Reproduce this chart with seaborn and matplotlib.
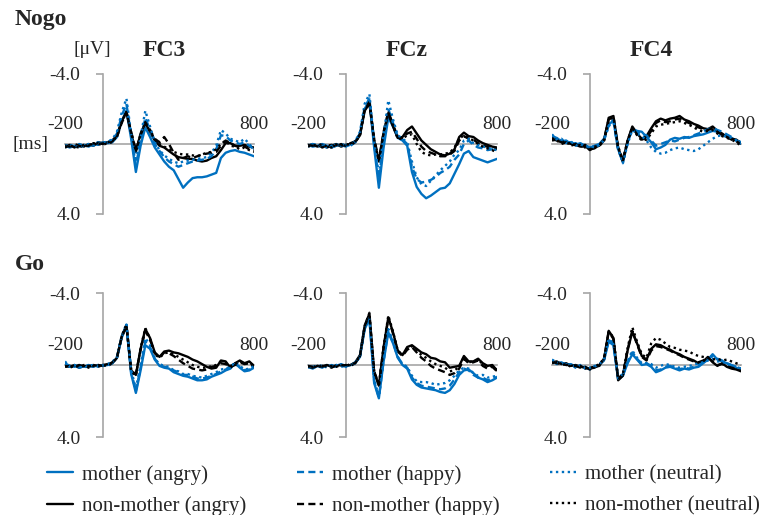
import numpy as np
import pandas as pd
import seaborn as sns
import matplotlib.pyplot as plt
from matplotlib.lines import Line2D

# time axis (ms), one sample every 25 ms
times = list(range(-200, 801, 25))

# ---------- Nogo, FC3 ----------
nogo_fc3_mother_angry = [0.10, 0.20, 0.10, 0.15, 0.05, 0.15, 0.00, 0.05, -0.10, -0.05, -0.10, -0.40,
                         -1.30, -1.90, -0.30, 1.60, 0.10, -0.95, -0.40, 0.20,
                         0.60, 1.00, 1.30, 1.50, 2.00, 2.50, 2.20, 1.95, 1.90, 1.90,
                         1.85, 1.75, 1.65, 0.80, 0.50, 0.40, 0.35, 0.45, 0.50, 0.60, 0.70]
nogo_fc3_mother_happy = [0.05, 0.15, 0.20, 0.00, 0.10, 0.10, 0.05, -0.10, 0.00, -0.10, -0.20, -0.60,
                         -1.60, -2.30, -0.50, 1.25, -0.20, -1.50, -0.80, 0.00,
                         0.40, 0.75, 1.00, 1.15, 1.30, 1.20, 1.10, 1.00, 0.95, 0.90,
                         0.85, 0.70, 0.30, -0.50, -0.45, -0.20, -0.10, 0.00, -0.10, 0.10, 0.30]
nogo_fc3_mother_neutral = [0.20, 0.05, 0.10, 0.20, 0.10, 0.00, 0.10, 0.00, -0.05, -0.15, -0.25, -0.70,
                           -1.80, -2.60, -0.60, 1.00, -0.40, -1.90, -1.00, -0.10,
                           0.35, 0.65, 0.85, 1.00, 1.10, 1.00, 0.95, 0.90, 0.85, 0.80,
                           0.75, 0.50, 0.10, -0.80, -0.60, -0.30, -0.20, -0.10, -0.30, 0.00, 0.30]
nogo_fc3_other_angry = [0.15, 0.05, 0.20, 0.05, 0.15, 0.00, 0.10, -0.10, -0.05, -0.10, -0.20, -0.50,
                        -1.30, -1.85, -0.60, 0.45, -0.60, -1.20, -0.70, -0.20,
                        0.10, 0.20, 0.40, 0.60, 0.75, 0.80, 0.85, 0.85, 0.95, 1.00,
                        0.95, 0.80, 0.70, 0.35, -0.05, -0.05, 0.10, 0.10, 0.05, 0.15, 0.20]
nogo_fc3_other_happy = [0.10, 0.15, 0.00, 0.10, 0.20, 0.05, 0.00, -0.05, 0.00, -0.10, -0.15, -0.40,
                        -1.20, -1.80, -0.70, 0.35, -0.50, -1.25, -0.80, -0.30,
                        -0.10, -0.40, 0.00, 0.50, 0.90, 0.80, 0.70, 0.80, 0.70, 0.60,
                        0.55, 0.50, 0.45, 0.10, -0.20, -0.05, 0.10, 0.20, 0.15, 0.30, 0.35]
nogo_fc3_other_neutral = [0.20, 0.10, 0.15, 0.20, 0.05, 0.10, -0.05, 0.00, 0.05, -0.05, -0.10, -0.45,
                          -1.25, -1.80, -0.65, 0.40, -0.55, -1.20, -0.75, -0.25,
                          0.00, 0.15, 0.30, 0.45, 0.55, 0.60, 0.60, 0.65, 0.70, 0.60,
                          0.50, 0.45, 0.30, 0.00, -0.20, 0.10, 0.15, 0.30, 0.20, 0.35, 0.45]

# ---------- Nogo, FCz ----------
nogo_fcz_mother_angry = [0.05, 0.15, 0.10, 0.00, 0.10, 0.20, 0.10, 0.05, 0.15, 0.00, -0.15, -0.60,
                         -2.00, -2.50, 0.20, 2.50, 0.20, -1.50, -1.00, -0.35,
                         -0.20, 0.10, 1.60, 2.45, 2.85, 3.10, 2.95, 2.75, 2.55, 2.50,
                         2.25, 1.70, 1.15, 0.55, 0.40, 0.75, 0.85, 0.95, 1.05, 0.95, 0.85]
nogo_fcz_mother_happy = [0.10, 0.00, 0.15, 0.10, 0.05, 0.15, 0.00, 0.10, 0.05, 0.10, -0.10, -0.60,
                         -2.10, -2.60, 0.00, 2.00, -0.10, -2.00, -1.20, -0.40,
                         -0.25, 0.00, 1.30, 2.00, 2.20, 2.15, 2.05, 1.90, 1.65, 1.50,
                         1.30, 0.90, 0.60, 0.00, -0.20, 0.05, 0.20, 0.25, 0.35, 0.30, 0.45]
nogo_fcz_mother_neutral = [0.15, 0.05, 0.00, 0.10, 0.20, 0.10, 0.05, 0.00, 0.10, 0.05, -0.15, -0.70,
                           -2.30, -2.85, -0.10, 1.80, -0.50, -2.50, -1.40, -0.50,
                           -0.30, -0.10, 1.00, 1.90, 2.30, 2.40, 2.10, 1.80, 1.50, 1.25,
                           1.00, 0.60, 0.35, -0.20, -0.30, -0.05, 0.05, 0.15, 0.20, 0.30, 0.35]
nogo_fcz_other_angry = [0.10, 0.00, 0.15, 0.05, 0.20, 0.10, 0.00, 0.15, 0.05, 0.00, -0.10, -0.50,
                        -1.90, -2.30, -0.20, 1.00, -0.60, -1.75, -1.00, -0.35,
                        -0.40, -0.80, -1.00, -0.60, -0.20, 0.05, 0.30, 0.45, 0.60, 0.65,
                        0.55, 0.30, -0.40, -0.65, -0.45, -0.40, -0.20, -0.05, 0.05, 0.15, 0.20]
nogo_fcz_other_happy = [0.05, 0.10, 0.00, 0.20, 0.10, 0.05, 0.15, 0.00, 0.10, -0.05, -0.15, -0.55,
                        -2.00, -2.40, -0.30, 0.90, -0.70, -1.85, -1.10, -0.40,
                        -0.35, -0.60, -0.70, -0.30, 0.15, 0.40, 0.50, 0.60, 0.70, 0.70,
                        0.60, 0.40, -0.20, -0.45, -0.30, -0.25, -0.05, 0.10, 0.15, 0.20, 0.30]
nogo_fcz_other_neutral = [0.15, 0.05, 0.10, 0.00, 0.15, 0.20, 0.05, 0.10, 0.00, 0.05, -0.10, -0.50,
                          -1.95, -2.35, -0.25, 0.95, -0.65, -1.80, -1.05, -0.30,
                          -0.30, -0.50, -0.55, 0.00, 0.45, 0.60, 0.65, 0.60, 0.60, 0.55,
                          0.50, 0.20, -0.30, -0.50, -0.35, -0.20, 0.00, 0.15, 0.25, 0.35, 0.50]

# ---------- Nogo, FC4 ----------
nogo_fc4_mother_angry = [-0.50, -0.30, -0.20, -0.10, -0.10, 0.05, -0.05, 0.10, 0.20, 0.10, 0.00, -0.30,
                         -1.10, -1.35, 0.30, 1.05, -0.10, -0.85, -0.75, -0.70,
                         -0.40, -0.10, 0.30, 0.20, 0.05, -0.25, -0.35, -0.30, -0.40, -0.35,
                         -0.45, -0.50, -0.55, -0.65, -0.75, -0.70, -0.55, -0.45, -0.35, -0.20, -0.10]
nogo_fc4_mother_happy = [-0.40, -0.35, -0.15, -0.20, 0.00, -0.05, 0.10, 0.05, 0.25, 0.15, 0.05, -0.25,
                         -1.05, -1.30, 0.35, 1.00, -0.05, -0.90, -0.70, -0.55,
                         -0.50, -0.20, 0.10, 0.00, -0.10, -0.20, -0.15, -0.25, -0.35, -0.40,
                         -0.50, -0.60, -0.70, -0.85, -0.90, -0.80, -0.70, -0.55, -0.40, -0.20, -0.10]
nogo_fc4_mother_neutral = [-0.55, -0.25, -0.30, -0.05, -0.15, 0.10, 0.00, 0.15, 0.10, 0.20, 0.05, -0.20,
                           -1.00, -1.40, 0.25, 1.10, 0.00, -0.80, -0.60, -0.45,
                           -0.20, 0.20, 0.45, 0.55, 0.50, 0.35, 0.25, 0.20, 0.30, 0.35,
                           0.40, 0.30, 0.10, -0.10, -0.30, -0.45, -0.50, -0.40, -0.35, -0.20, 0.00]
nogo_fc4_other_angry = [-0.30, -0.20, -0.10, -0.15, 0.00, 0.05, 0.15, 0.10, 0.35, 0.20, 0.10, -0.20,
                        -1.50, -1.60, 0.20, 1.00, -0.20, -1.00, -0.60, -0.30,
                        -0.45, -0.90, -1.30, -1.45, -1.35, -1.45, -1.50, -1.60, -1.40, -1.30,
                        -1.15, -1.05, -0.90, -0.85, -1.00, -0.75, -0.60, -0.40, -0.30, -0.25, -0.05]
nogo_fc4_other_happy = [-0.20, -0.25, 0.00, -0.10, 0.10, 0.00, 0.20, 0.05, 0.30, 0.25, 0.05, -0.25,
                        -1.40, -1.55, 0.25, 0.95, -0.15, -0.95, -0.55, -0.25,
                        -0.35, -0.75, -1.20, -1.35, -1.25, -1.30, -1.40, -1.45, -1.30, -1.20,
                        -1.05, -0.95, -0.85, -0.80, -0.90, -0.70, -0.50, -0.40, -0.25, -0.15, 0.00]
nogo_fc4_other_neutral = [-0.35, -0.15, -0.20, 0.00, -0.05, 0.10, 0.05, 0.20, 0.30, 0.15, 0.10, -0.15,
                          -1.35, -1.55, 0.15, 0.90, -0.20, -0.95, -0.50, -0.20,
                          -0.25, -0.60, -1.00, -1.10, -1.15, -1.20, -1.25, -1.30, -1.20, -1.10,
                          -0.95, -0.80, -0.70, -0.75, -0.80, -0.60, -0.45, -0.35, -0.25, -0.10, 0.10]

# ---------- Go, FC3 ----------
go_fc3_mother_angry = [-0.10, 0.05, 0.10, 0.00, 0.10, 0.05, 0.10, 0.00, 0.05, 0.00, -0.10, -0.40,
                       -1.50, -2.20, 0.50, 1.55, 0.30, -1.10, -0.90, -0.30,
                       0.05, 0.15, 0.20, 0.40, 0.50, 0.60, 0.65, 0.75, 0.85, 0.85,
                       0.80, 0.65, 0.55, 0.45, 0.30, 0.20, -0.10, 0.15, 0.35, 0.30, 0.15]
go_fc3_mother_happy = [0.00, 0.10, 0.05, 0.15, 0.05, 0.00, 0.10, 0.05, 0.00, 0.05, -0.10, -0.45,
                       -1.55, -2.25, 0.40, 1.45, 0.15, -1.30, -1.00, -0.35,
                       0.00, 0.10, 0.15, 0.30, 0.40, 0.55, 0.55, 0.65, 0.75, 0.75,
                       0.70, 0.60, 0.50, 0.35, 0.25, 0.15, -0.05, 0.10, 0.30, 0.25, 0.10]
go_fc3_mother_neutral = [-0.20, 0.10, 0.00, 0.10, 0.15, 0.05, 0.00, 0.10, 0.05, -0.05, -0.15, -0.45,
                         -1.60, -2.30, 0.30, 1.30, 0.00, -1.50, -1.10, -0.35,
                         -0.05, 0.05, 0.10, 0.30, 0.35, 0.50, 0.50, 0.60, 0.65, 0.70,
                         0.60, 0.50, 0.40, 0.25, 0.20, 0.10, -0.15, 0.05, 0.25, 0.20, 0.05]
go_fc3_other_angry = [0.05, 0.10, 0.00, 0.15, 0.05, 0.10, 0.00, 0.05, 0.00, -0.05, -0.10, -0.40,
                      -1.60, -2.20, 0.30, 0.55, -0.90, -2.00, -1.50, -0.70,
                      -0.45, -0.75, -0.80, -0.70, -0.65, -0.55, -0.45, -0.30, -0.20, -0.05,
                      0.10, 0.20, 0.15, -0.25, -0.20, 0.15, -0.10, -0.25, -0.10, -0.20, 0.05]
go_fc3_other_happy = [0.10, 0.05, 0.10, 0.00, 0.10, 0.05, 0.05, 0.00, 0.05, 0.00, -0.15, -0.45,
                      -1.55, -2.15, 0.25, 0.50, -0.85, -1.90, -1.40, -0.65,
                      -0.40, -0.70, -0.65, -0.50, -0.30, -0.10, 0.05, 0.20, 0.25, 0.30,
                      0.25, 0.10, 0.05, -0.10, -0.05, 0.10, 0.00, -0.15, -0.05, -0.10, 0.10]
go_fc3_other_neutral = [0.05, 0.15, 0.05, 0.10, 0.00, 0.15, 0.05, 0.10, 0.00, 0.05, -0.10, -0.40,
                        -1.60, -2.25, 0.35, 0.60, -0.95, -2.05, -1.45, -0.60,
                        -0.40, -0.65, -0.70, -0.60, -0.45, -0.30, -0.15, 0.00, 0.10, 0.15,
                        0.15, 0.05, 0.00, -0.20, -0.10, 0.05, -0.05, -0.20, -0.05, -0.15, 0.05]

# ---------- Go, FCz ----------
go_fcz_mother_angry = [0.10, 0.20, 0.05, 0.15, 0.00, 0.10, 0.05, -0.05, 0.05, 0.00, -0.10, -0.45,
                       -2.00, -2.55, 1.00, 1.85, -0.20, -1.80, -1.20, -0.40,
                       0.00, 0.20, 0.80, 1.10, 1.25, 1.30, 1.35, 1.40, 1.50, 1.55,
                       1.40, 1.05, 0.55, 0.30, 0.25, 0.45, 0.70, 0.80, 0.95, 0.85, 0.70]
go_fcz_mother_happy = [0.05, 0.10, 0.15, 0.05, 0.10, 0.00, 0.10, 0.00, 0.10, 0.05, -0.15, -0.50,
                       -2.05, -2.60, 0.90, 1.80, -0.25, -1.90, -1.25, -0.45,
                       -0.05, 0.15, 0.70, 1.00, 1.15, 1.20, 1.25, 1.30, 1.35, 1.30,
                       1.15, 0.80, 0.40, 0.20, 0.30, 0.55, 0.70, 0.70, 0.85, 0.80, 0.65]
go_fcz_mother_neutral = [0.15, 0.05, 0.10, 0.00, 0.15, 0.05, 0.00, 0.10, 0.05, 0.00, -0.10, -0.50,
                         -2.10, -2.70, 0.80, 1.75, -0.30, -2.00, -1.30, -0.45,
                         -0.05, 0.10, 0.60, 0.90, 0.95, 0.95, 1.00, 1.10, 1.05, 1.00,
                         0.85, 0.60, 0.30, 0.15, 0.20, 0.45, 0.60, 0.55, 0.70, 0.65, 0.60]
go_fcz_other_angry = [0.10, 0.15, 0.05, 0.10, 0.00, 0.10, 0.05, 0.00, 0.05, 0.00, -0.15, -0.55,
                      -2.20, -2.85, 0.40, 1.15, -1.00, -2.65, -1.80, -0.80,
                      -0.55, -1.00, -1.10, -0.90, -0.70, -0.60, -0.40, -0.35, -0.20, -0.15,
                      0.15, 0.10, 0.05, -0.50, -0.20, -0.20, -0.35, -0.10, 0.05, 0.00, 0.30]
go_fcz_other_happy = [0.05, 0.10, 0.10, 0.05, 0.05, 0.15, 0.00, 0.05, 0.00, 0.05, -0.10, -0.50,
                      -2.15, -2.80, 0.35, 1.10, -0.95, -2.60, -1.75, -0.75,
                      -0.50, -0.85, -1.00, -0.70, -0.40, -0.20, 0.05, 0.20, 0.30, 0.40,
                      0.55, 0.45, 0.20, -0.35, -0.10, -0.15, -0.25, 0.05, 0.20, 0.10, 0.35]
go_fcz_other_neutral = [0.10, 0.05, 0.15, 0.00, 0.10, 0.05, 0.10, 0.00, 0.05, -0.05, -0.10, -0.50,
                        -2.15, -2.90, 0.35, 1.10, -1.00, -2.75, -1.85, -0.80,
                        -0.55, -0.95, -1.05, -0.80, -0.55, -0.40, -0.20, -0.05, 0.05, 0.15,
                        0.35, 0.30, 0.10, -0.45, -0.15, -0.20, -0.30, -0.05, 0.10, 0.05, 0.30]

# ---------- Go, FC4 ----------
go_fc4_mother_angry = [-0.20, -0.10, -0.15, 0.00, -0.05, 0.10, 0.05, 0.15, 0.20, 0.10, 0.00, -0.25,
                       -1.30, -1.10, 0.80, 0.60, -0.10, -0.60, -0.30, 0.00,
                       -0.05, 0.10, 0.40, 0.30, 0.15, 0.10, 0.20, 0.30, 0.20, 0.25,
                       0.15, 0.10, -0.10, -0.30, -0.60, -0.30, -0.20, -0.10, 0.05, 0.15, 0.25]
go_fc4_mother_happy = [-0.25, -0.05, -0.10, -0.05, 0.05, 0.05, 0.10, 0.10, 0.25, 0.05, 0.05, -0.30,
                       -1.40, -1.15, 0.75, 0.55, -0.15, -0.70, -0.35, -0.05,
                       -0.10, 0.05, 0.30, 0.25, 0.10, 0.05, 0.15, 0.25, 0.15, 0.20,
                       0.10, 0.00, -0.15, -0.35, -0.50, -0.35, -0.25, -0.10, 0.00, 0.10, 0.20]
go_fc4_mother_neutral = [-0.30, -0.15, -0.05, -0.10, 0.00, 0.15, 0.00, 0.20, 0.15, 0.10, -0.05, -0.30,
                         -1.45, -1.20, 0.70, 0.50, -0.20, -0.80, -0.40, -0.10,
                         -0.10, -0.05, 0.15, 0.05, -0.05, 0.00, 0.10, 0.15, 0.10, 0.05,
                         0.00, -0.10, -0.15, -0.25, -0.35, -0.20, -0.20, -0.05, 0.00, 0.10, 0.20]
go_fc4_other_angry = [-0.15, -0.20, -0.05, -0.10, 0.05, 0.00, 0.10, 0.15, 0.20, 0.15, 0.00, -0.30,
                      -1.90, -1.50, 0.85, 0.60, -0.80, -1.85, -1.20, -0.50,
                      -0.30, -0.90, -1.15, -1.10, -0.95, -0.85, -0.70, -0.60, -0.45, -0.35,
                      -0.25, -0.10, -0.20, -0.45, -0.15, 0.05, -0.10, 0.10, 0.20, 0.25, 0.35]
go_fc4_other_happy = [-0.20, -0.10, -0.10, 0.00, 0.00, 0.05, 0.15, 0.10, 0.25, 0.10, 0.05, -0.35,
                      -1.85, -1.45, 0.80, 0.55, -0.85, -1.90, -1.15, -0.45,
                      -0.25, -0.80, -1.05, -1.00, -0.90, -0.80, -0.65, -0.55, -0.40, -0.30,
                      -0.20, -0.15, -0.25, -0.40, -0.20, 0.00, -0.05, 0.05, 0.15, 0.20, 0.30]
go_fc4_other_neutral = [-0.10, -0.15, 0.00, -0.05, 0.10, 0.05, 0.05, 0.20, 0.15, 0.10, -0.05, -0.35,
                        -1.85, -1.55, 0.75, 0.50, -0.95, -2.10, -1.30, -0.60,
                        -0.40, -1.20, -1.50, -1.40, -1.20, -1.00, -0.95, -0.85, -0.80, -0.75,
                        -0.60, -0.50, -0.45, -0.40, -0.30, -0.35, -0.25, -0.30, -0.20, -0.10, 0.00]

groups = ["mother (angry)", "non-mother (angry)", "mother (happy)",
          "non-mother (happy)", "mother (neutral)", "non-mother (neutral)"]
electrodes = ["FC3", "FCz", "FC4"]
conditions = ["Nogo", "Go"]

panel_series = {
    ("Nogo", "FC3"): [nogo_fc3_mother_angry, nogo_fc3_other_angry, nogo_fc3_mother_happy,
                      nogo_fc3_other_happy, nogo_fc3_mother_neutral, nogo_fc3_other_neutral],
    ("Nogo", "FCz"): [nogo_fcz_mother_angry, nogo_fcz_other_angry, nogo_fcz_mother_happy,
                      nogo_fcz_other_happy, nogo_fcz_mother_neutral, nogo_fcz_other_neutral],
    ("Nogo", "FC4"): [nogo_fc4_mother_angry, nogo_fc4_other_angry, nogo_fc4_mother_happy,
                      nogo_fc4_other_happy, nogo_fc4_mother_neutral, nogo_fc4_other_neutral],
    ("Go", "FC3"): [go_fc3_mother_angry, go_fc3_other_angry, go_fc3_mother_happy,
                    go_fc3_other_happy, go_fc3_mother_neutral, go_fc3_other_neutral],
    ("Go", "FCz"): [go_fcz_mother_angry, go_fcz_other_angry, go_fcz_mother_happy,
                    go_fcz_other_happy, go_fcz_mother_neutral, go_fcz_other_neutral],
    ("Go", "FC4"): [go_fc4_mother_angry, go_fc4_other_angry, go_fc4_mother_happy,
                    go_fc4_other_happy, go_fc4_mother_neutral, go_fc4_other_neutral],
}

rows = []
for (cond, el), series in panel_series.items():
    for g, vals in zip(groups, series):
        for t, v in zip(times, vals):
            rows.append((cond, el, g, t, v))
df = pd.DataFrame(rows, columns=["condition", "electrode", "group", "time", "amp"])

BLUE = "#0070C0"
GRAY = "#A6A6A6"
palette = {g: (BLUE if g.startswith("mother") else "black") for g in groups}
dash_map = {}
for g in groups:
    if "angry" in g:
        dash_map[g] = ""
    elif "happy" in g:
        dash_map[g] = (3, 1.8)
    else:
        dash_map[g] = (1, 1.5)

sns.set_theme(style="white")
plt.rcParams["font.family"] = ["Liberation Serif", "DejaVu Serif"]

W, H = 772, 515
fig = plt.figure(figsize=(W / 100, H / 100), dpi=100)


def fx(px):
    return px / W


def fy(py):
    return 1 - py / H


col_left = [65, 308, 552]
col_w = 189
row_box = {"Nogo": (74, 214), "Go": (293, 437)}

for cond in conditions:
    top, bot = row_box[cond]
    for j, el in enumerate(electrodes):
        ax = fig.add_axes([fx(col_left[j]), fy(bot), col_w / W, (bot - top) / H])
        sub = df[(df["condition"] == cond) & (df["electrode"] == el)]
        sns.lineplot(data=sub, x="time", y="amp", hue="group", style="group",
                     palette=palette, dashes=dash_map, hue_order=groups,
                     linewidth=1.7, legend=False, ax=ax, estimator=None, sort=False)
        ax.set_xlim(-200, 800)
        ax.set_ylim(4, -4)
        ax.set_xlabel("")
        ax.set_ylabel("")
        for s in ["top", "right"]:
            ax.spines[s].set_visible(False)
        ax.spines["left"].set_position(("data", 0))
        ax.spines["bottom"].set_position(("data", 0))
        for s in ["left", "bottom"]:
            ax.spines[s].set_color(GRAY)
            ax.spines[s].set_linewidth(1.2)
            ax.spines[s].set_zorder(0.5)
        ax.set_xticks([])
        ax.set_yticks([-4, 4])
        ax.set_yticklabels(["-4.0", "4.0"])
        ax.tick_params(axis="y", direction="out", length=5, width=1.2, color=GRAY,
                       pad=11, labelsize=14, left=True)
        ax.patch.set_alpha(0)
        for lab, t in [("-200", -200), ("800", 800)]:
            ax.annotate(lab, xy=(t, 0), xytext=(0, 14), textcoords="offset points",
                        ha="center", va="center", fontsize=14)
        if cond == "Nogo":
            fig.text(fx(col_left[j] + 99), fy(50), el, ha="center", va="center",
                     fontsize=17, fontweight="bold")

fig.text(fx(15), fy(20), "Nogo", ha="left", va="center", fontsize=17, fontweight="bold")
fig.text(fx(15), fy(265), "Go", ha="left", va="center", fontsize=17, fontweight="bold")
fig.text(fx(92), fy(50), "[\u03bcV]", ha="center", va="center", fontsize=14)
fig.text(fx(30), fy(145), "[ms]", ha="center", va="center", fontsize=14)

handles = [Line2D([], [], color=palette[g], lw=1.7,
                  dashes=(dash_map[g] if dash_map[g] else (None, None))) for g in groups]
fig.legend(handles, groups, ncol=3, loc="upper left", bbox_to_anchor=(fx(47), fy(465)),
           frameon=False, fontsize=15, handlelength=1.25, handletextpad=0.45,
           columnspacing=2.4, labelspacing=0.55, borderpad=0, borderaxespad=0)

fig.savefig("out.png", dpi=100)
